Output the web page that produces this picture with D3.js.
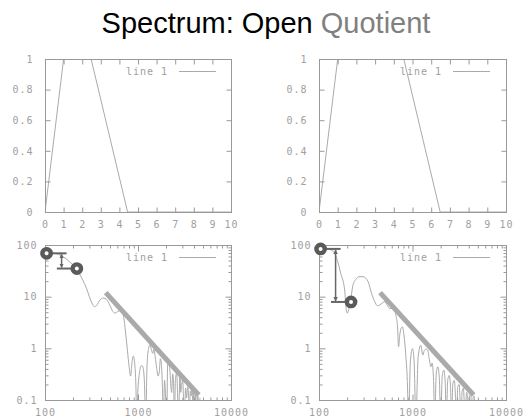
<!DOCTYPE html>
<html>
<head>
<meta charset="utf-8">
<script src="https://cdn.jsdelivr.net/npm/d3@7"></script>
<style>
  html, body { margin: 0; padding: 0; background: #fff; }
  svg { display: block; }
</style>
</head>
<body>
<svg id="chart" width="532" height="420"></svg>
<script>
// ---- data ----
const titleMain = "Spectrum: Open ";
const titleAccent = "Quotient";
const legendLabel = "line 1";

const linearXTicks = [0, 1, 2, 3, 4, 5, 6, 7, 8, 9, 10];
const linearYTicks = [0, 0.2, 0.4, 0.6, 0.8, 1];
const logXTicks = [100, 1000, 10000];
const logYTicks = [0.1, 1, 10, 100];

// glottal pulse shapes (time, amplitude)
const pulseShort = [[0, 0], [1.5, 1.5], [4.44, 0], [10, 0]];
const pulseLong = [[0, 0], [2.2, 2.2], [6.48, 0], [10, 0]];

// magnitude spectra (frequency, amplitude)
const spectrumShort = [
  [100, 73], [120, 71], [140, 66], [160, 58], [180, 49], [200, 41], [220, 34],
  [245, 24], [265, 18], [281, 14.2], [300, 10], [320, 7.5], [339, 6.4], [360, 6.8],
  [390, 8.6], [424, 9.4], [460, 8.8], [500, 6.7], [540, 5.1], [566, 4.8], [610, 5.2],
  [650, 5.4], [680, 5.0], [710, 3.5], [740, 1.8], [770, 0.9], [800, 0.46], [834, 0.29],
  [860, 0.52], [890, 0.71], [920, 0.52], [950, 0.18], [968, 0.04], [990, 0.12],
  [1040, 0.35], [1080, 0.46], [1123, 0.45], [1170, 0.24], [1210, 0.04], [1250, 0.46],
  [1300, 1.0], [1346, 1.18], [1400, 0.91], [1440, 0.8], [1480, 0.96], [1530, 0.69],
  [1590, 0.41], [1640, 0.29], [1694, 0.35], [1740, 0.63], [1780, 0.52], [1830, 0.18],
  [1871, 0.04], [1930, 0.24], [1980, 0.12], [2036, 0.04], [2085, 0.5], [2120, 0.55],
  [2209, 0.35], [2260, 0.18], [2300, 0.14], [2360, 0.32], [2420, 0.18], [2460, 0.04],
  [2530, 0.26], [2606, 0.33], [2660, 0.14], [2720, 0.04], [2832, 0.34], [2880, 0.14],
  [2950, 0.2], [3022, 0.25], [3080, 0.12], [3150, 0.04], [3250, 0.17], [3330, 0.11],
  [3420, 0.18], [3500, 0.12], [3560, 0.04], [3650, 0.15], [3740, 0.12], [3820, 0.17],
  [3900, 0.06], [3980, 0.14], [4080, 0.07], [4180, 0.13], [4280, 0.04], [4400, 0.12],
  [4500, 0.07], [4640, 0.11]
];
const spectrumLong = [
  [104, 84], [120, 83], [133, 81], [150, 64], [160, 45], [171, 28], [188, 13.5],
  [196, 5.5], [201, 4.8], [208, 5.6], [218, 8.6], [231, 16.8], [250, 22], [268, 24.4],
  [296, 24.4], [335, 19.6], [364, 11.7], [395, 8], [420, 6.7], [447, 6.9], [477, 7.6],
  [505, 8], [540, 6.7], [572, 5.9], [636, 5.9], [665, 4.3], [692, 2.6], [709, 1.07],
  [730, 1.8], [760, 2.5], [781, 2.6], [810, 1.8], [850, 0.69], [880, 0.24], [908, 0.04],
  [950, 0.57], [1000, 0.99], [1040, 0.57], [1086, 0.04], [1150, 0.69], [1227, 1.15],
  [1290, 0.74], [1340, 0.91], [1400, 0.96], [1449, 0.93], [1510, 0.63], [1574, 0.44],
  [1620, 0.52], [1680, 0.24], [1720, 0.04], [1800, 0.35], [1870, 0.44], [1940, 0.24],
  [2000, 0.04], [2080, 0.29], [2160, 0.38], [2240, 0.21], [2300, 0.04], [2380, 0.24],
  [2470, 0.3], [2550, 0.18], [2620, 0.04], [2700, 0.21], [2800, 0.24], [2880, 0.12],
  [2950, 0.04], [3050, 0.18], [3150, 0.2], [3230, 0.1], [3300, 0.04], [3400, 0.15],
  [3500, 0.17], [3600, 0.07], [3680, 0.04], [3780, 0.14], [3880, 0.13], [3960, 0.04],
  [4080, 0.12], [4200, 0.13], [4320, 0.04], [4450, 0.11], [4560, 0.12], [4650, 0.06]
];

// first two harmonics (frequency, amplitude)
const harmonicsShort = [[104, 69], [220, 35]];
const harmonicsLong = [[104, 84], [220, 7.9]];

// spectral tilt guide
const tiltGuide = [[450, 12], [4500, 0.125]];

// ---- styling ----
const AXIS = "#999";
const LABEL = "#a0a0a0";
const TRACE = "#aaa";
const MARK = "#5a5a5a";
const ARROW = "#666";
const monoFont = "'DejaVu Sans Mono', monospace";

const svg = d3.select("#chart");

// title
const title = svg.append("text")
  .attr("x", 266).attr("y", 33)
  .attr("text-anchor", "middle")
  .attr("font-family", "'Liberation Sans', Arial, sans-serif")
  .attr("font-size", 29);
title.append("tspan").attr("fill", "#000").text(titleMain);
title.append("tspan").attr("fill", "#808080").text(titleAccent);

// arrowheads
const defs = svg.append("defs");
["start", "end"].forEach(kind => {
  defs.append("marker")
    .attr("id", "head-" + kind)
    .attr("viewBox", "0 0 10 10")
    .attr("refX", kind === "end" ? 9 : 1).attr("refY", 5)
    .attr("markerWidth", 3).attr("markerHeight", 3)
    .attr("orient", "auto")
    .append("path")
    .attr("d", kind === "end" ? "M0,0L10,5L0,10Z" : "M10,0L0,5L10,10Z")
    .attr("fill", ARROW);
});

let clipCount = 0;

function frame(box) {
  const g = svg.append("g");
  const id = "clip" + (clipCount++);
  defs.append("clipPath").attr("id", id)
    .append("rect")
    .attr("x", box.x0).attr("y", box.y0)
    .attr("width", box.x1 - box.x0).attr("height", box.y1 - box.y0);
  return { g, clip: `url(#${id})` };
}

function styleAxis(sel) {
  sel.select(".domain").remove();
  sel.selectAll("line").attr("stroke", AXIS);
  sel.selectAll("text")
    .attr("fill", LABEL)
    .attr("font-family", monoFont)
    .attr("font-size", 10)
    .attr("letter-spacing", "1px");
}

function drawAxes(g, x, y, box, xt, yt, opt) {
  const fmt = d => String(d);
  const L = opt.tick;
  // box outline
  g.append("rect")
    .attr("x", box.x0 + 0.5).attr("y", box.y0 + 0.5)
    .attr("width", box.x1 - box.x0).attr("height", box.y1 - box.y0)
    .attr("fill", "none").attr("stroke", AXIS);

  const sides = [
    [d3.axisBottom(x).tickValues(xt).tickFormat(fmt).tickPadding(opt.xPad), `translate(0,${box.y1 + 0.5})`],
    [d3.axisTop(x).tickValues(xt).tickFormat(""), `translate(0,${box.y0 + 0.5})`],
    [d3.axisLeft(y).tickValues(yt).tickFormat(fmt).tickPadding(opt.yPad), `translate(${box.x0 + 0.5},0)`],
    [d3.axisRight(y).tickValues(yt).tickFormat(""), `translate(${box.x1 + 0.5},0)`]
  ];
  sides.forEach(([ax, tr]) => {
    g.append("g").attr("transform", tr).call(ax.tickSize(-L)).call(styleAxis);
  });

  if (opt.minor) {
    const xm = x.ticks().filter(v => !xt.includes(v));
    const ym = y.ticks().filter(v => !yt.some(t => Math.abs(t - v) < 1e-9));
    const minor = [
      [d3.axisBottom(x).tickValues(xm), `translate(0,${box.y1 + 0.5})`],
      [d3.axisTop(x).tickValues(xm), `translate(0,${box.y0 + 0.5})`],
      [d3.axisLeft(y).tickValues(ym), `translate(${box.x0 + 0.5},0)`],
      [d3.axisRight(y).tickValues(ym), `translate(${box.x1 + 0.5},0)`]
    ];
    minor.forEach(([ax, tr]) => {
      g.append("g").attr("transform", tr)
        .call(ax.tickFormat("").tickSize(-opt.minor)).call(styleAxis);
    });
  }
}

function drawLegend(g, box) {
  const ly = box.y0 + 12;
  g.append("text")
    .attr("x", box.x0 + 81).attr("y", ly + 3.5)
    .attr("fill", LABEL)
    .attr("font-family", monoFont)
    .attr("font-size", 10)
    .attr("letter-spacing", "1px")
    .text(legendLabel);
  g.append("line")
    .attr("x1", box.x0 + 134).attr("x2", box.x0 + 171)
    .attr("y1", ly + 0.5).attr("y2", ly + 0.5)
    .attr("stroke", TRACE).attr("stroke-width", 1);
}

function pulsePanel(box, data) {
  const { g, clip } = frame(box);
  const x = d3.scaleLinear().domain([0, 10]).range([box.x0, box.x1]);
  const y = d3.scaleLinear().domain([0, 1]).range([box.y1, box.y0]);
  drawLegend(g, box);
  g.append("path")
    .datum(data)
    .attr("clip-path", clip)
    .attr("fill", "none").attr("stroke", TRACE).attr("stroke-width", 1)
    .attr("d", d3.line().x(d => x(d[0])).y(d => y(d[1])));
  drawAxes(g, x, y, box, linearXTicks, linearYTicks, { tick: 5, xPad: 8, yPad: 12 });
}

function spectrumPanel(box, data, harmonics) {
  const { g, clip } = frame(box);
  const x = d3.scaleLog().domain([100, 10000]).range([box.x0, box.x1]);
  const y = d3.scaleLog().domain([0.1, 100]).range([box.y1, box.y0]);
  drawLegend(g, box);

  g.append("path")
    .datum(data)
    .attr("clip-path", clip)
    .attr("fill", "none").attr("stroke", TRACE).attr("stroke-width", 1)
    .attr("d", d3.line().x(d => x(d[0])).y(d => y(d[1])).curve(d3.curveMonotoneX));

  g.append("path")
    .datum(tiltGuide)
    .attr("fill", "none").attr("stroke", TRACE).attr("stroke-width", 5)
    .attr("d", d3.line().x(d => x(d[0])).y(d => y(d[1])));

  drawAxes(g, x, y, box, logXTicks, logYTicks, { tick: 6, minor: 3, xPad: 8, yPad: 8 });

  // H1 - H2 annotation
  const [h1, h2] = harmonics;
  const p1 = [x(h1[0]), y(h1[1])];
  const p2 = [x(h2[0]), y(h2[1])];
  const ax = p1[0] + 15;
  const ann = g.append("g").attr("stroke", ARROW).attr("stroke-width", 2);
  ann.append("line").attr("x1", p1[0]).attr("x2", p1[0] + 20).attr("y1", p1[1]).attr("y2", p1[1]);
  ann.append("line").attr("x1", p2[0] - 20).attr("x2", p2[0]).attr("y1", p2[1]).attr("y2", p2[1]);
  ann.append("line")
    .attr("x1", ax).attr("x2", ax)
    .attr("y1", p1[1] + 1).attr("y2", p2[1] - 1)
    .attr("stroke-width", 1.5)
    .attr("marker-start", "url(#head-start)")
    .attr("marker-end", "url(#head-end)");

  g.selectAll("circle.harmonic")
    .data(harmonics)
    .join("circle")
    .attr("class", "harmonic")
    .attr("cx", d => x(d[0])).attr("cy", d => y(d[1]))
    .attr("r", 4.2)
    .attr("fill", "#fff")
    .attr("stroke", MARK).attr("stroke-width", 4.4);
}

pulsePanel({ x0: 45, x1: 231, y0: 59, y1: 212 }, pulseShort);
pulsePanel({ x0: 319, x1: 506, y0: 59, y1: 212 }, pulseLong);
spectrumPanel({ x0: 45, x1: 231, y0: 245, y1: 400 }, spectrumShort, harmonicsShort);
spectrumPanel({ x0: 319, x1: 506, y0: 245, y1: 400 }, spectrumLong, harmonicsLong);
</script>
</body>
</html>
